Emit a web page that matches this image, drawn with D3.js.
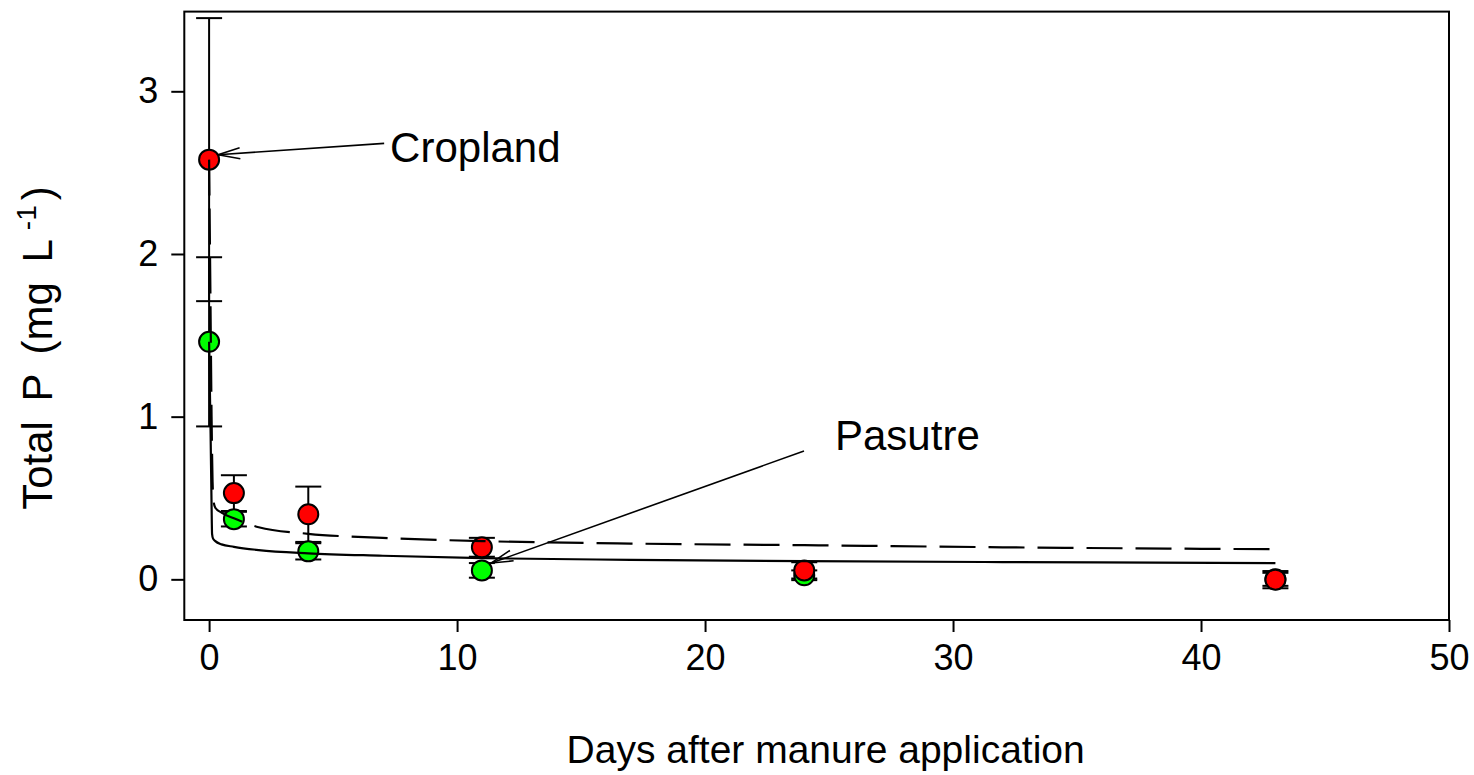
<!DOCTYPE html>
<html lang="en">
<head>
<meta charset="UTF-8">
<title>Total P after manure application</title>
<script src="https://d3js.org/d3.v7.min.js"></script>
<style>
    * { margin: 0; padding: 0; }
    body { background: #fff; }
    svg { display: block; font-family: "Liberation Sans", Arial, sans-serif; }
</style>
</head>
<body>
<script>
    // measured points (days, mean, error)
    var cropDays = [0, 1, 4, 11, 24, 43],
        cropMean = [2.58, 0.53, 0.40, 0.197, 0.055, -0.002],
        cropErr  = [0.87, 0.11, 0.17, 0.058, 0.05, 0.053];

    var pastDays = [0, 1, 4, 11, 24, 43],
        pastMean = [1.46, 0.37, 0.172, 0.055, 0.025, 0.0],
        pastErr  = [0.52, 0.045, 0.05, 0.045, 0.03, 0.04];

    // fitted curves
    var cropFitX = [0, 0.05, 0.1, 0.14, 0.18, 0.25, 0.5, 1, 2, 4, 7, 11, 17, 24, 32, 43],
        cropFitY = [2.58, 1.8, 1.0, 0.6, 0.48, 0.44, 0.41, 0.375, 0.32, 0.28, 0.255, 0.235, 0.22, 0.21, 0.197, 0.185];
    var pastFitX = [0, 0.06, 0.1, 0.12, 0.16, 0.25, 0.5, 1, 2, 4, 7, 11, 17, 24, 32, 43],
        pastFitY = [1.46, 0.9, 0.45, 0.28, 0.25, 0.235, 0.215, 0.2, 0.18, 0.16, 0.145, 0.13, 0.12, 0.112, 0.106, 0.10];

    var xTicks = [0, 10, 20, 30, 40, 50],
        yTicks = [0, 1, 2, 3];

    var labels = [
        {text: "Cropland", tx: 7.3, ty: 2.565, x1: 7.06, y1: 2.68, x2: 0.36, y2: 2.61},
        {text: "Pasutre", tx: 25.24, ty: 0.795, x1: 23.99, y1: 0.789, x2: 11.37, y2: 0.10}
    ];

    var W = 1474, H = 775;
    var x = d3.scaleLinear().domain([-1, 50]).range([184.3, 1449]);
    var y = d3.scaleLinear().domain([-0.25, 3.49]).range([620, 11.6]);

    var svg = d3.select("body").append("svg")
        .attr("width", W).attr("height", H);

    var defs = svg.append("defs");
    defs.append("marker")
        .attr("id", "arr")
        .attr("viewBox", "0 0 24 14")
        .attr("refX", 23).attr("refY", 7)
        .attr("markerWidth", 24).attr("markerHeight", 14)
        .attr("markerUnits", "userSpaceOnUse")
        .attr("orient", "auto")
        .append("path")
        .attr("d", "M1,1.5 L23,7 L1,12.5")
        .attr("fill", "none")
        .attr("stroke", "#000")
        .attr("stroke-width", 1.6);

    // frame
    svg.append("rect")
        .attr("x", x(-1)).attr("y", y(3.49))
        .attr("width", x(50) - x(-1)).attr("height", y(-0.25) - y(3.49))
        .attr("fill", "none").attr("stroke", "#000").attr("stroke-width", 2);

    // axes
    var xAxis = d3.axisBottom(x).tickValues(xTicks).tickFormat(d3.format("d"))
        .tickSize(12).tickPadding(12).tickSizeOuter(0);
    var gx = svg.append("g").attr("transform", "translate(0," + y(-0.25) + ")").call(xAxis);
    var yAxis = d3.axisLeft(y).tickValues(yTicks).tickFormat(d3.format("d"))
        .tickSize(13).tickPadding(13).tickSizeOuter(0);
    var gy = svg.append("g").attr("transform", "translate(" + x(-1) + ",0)").call(yAxis);
    [gx, gy].forEach(function(g) {
        g.select(".domain").remove();
        g.selectAll(".tick line").attr("stroke", "#000").attr("stroke-width", 2);
        g.selectAll(".tick text").attr("fill", "#000").style("font-size", "36px")
            .style("font-family", "'Liberation Sans', Arial, sans-serif");
    });

    // axis titles
    svg.append("text")
        .attr("x", (x(-1) + x(50)) / 2 + 9).attr("y", 763)
        .attr("text-anchor", "middle").style("font-size", "39px")
        .text("Days after manure application");

    var yl = svg.append("text")
        .attr("transform", "translate(52," + 348 + ") rotate(-90)")
        .attr("text-anchor", "middle").style("font-size", "42px")
        .style("word-spacing", "8px");
    yl.append("tspan").text("Total P (mg L");
    yl.append("tspan").attr("dx", 9).attr("dy", -16).style("font-size", "28px").text("-1");
    yl.append("tspan").attr("dx", 5).attr("dy", 16).text(")");

    function series(days, mean, err) {
        return days.map(function(d, i) { return {x: d, y: mean[i], e: err[i]}; });
    }
    var crop = series(cropDays, cropMean, cropErr),
        past = series(pastDays, pastMean, pastErr);

    function errorBars(data) {
        var g = svg.append("g").attr("stroke", "#000").attr("stroke-width", 2);
        data.forEach(function(d) {
            g.append("line").attr("x1", x(d.x)).attr("x2", x(d.x))
                .attr("y1", y(d.y - d.e)).attr("y2", y(d.y + d.e));
            [d.y - d.e, d.y + d.e].forEach(function(v) {
                g.append("line").attr("x1", x(d.x) - 13).attr("x2", x(d.x) + 13)
                    .attr("y1", y(v)).attr("y2", y(v));
            });
        });
    }
    errorBars(past);
    errorBars(crop);

    function points(data, color) {
        svg.append("g").selectAll("circle").data(data).enter().append("circle")
            .attr("cx", function(d) { return x(d.x); })
            .attr("cy", function(d) { return y(d.y); })
            .attr("r", 10)
            .attr("fill", color).attr("stroke", "#000").attr("stroke-width", 2);
    }
    points(past, "#00ff00");
    points(crop, "#ff0000");

    var line = d3.line().x(function(d) { return x(d[0]); }).y(function(d) { return y(d[1]); })
        .curve(d3.curveMonotoneX);
    svg.append("path")
        .datum(cropFitX.map(function(v, i) { return [v, cropFitY[i]]; }))
        .attr("d", line).attr("fill", "none").attr("stroke", "#000")
        .attr("stroke-width", 2.2).attr("stroke-dasharray", "36,13");
    svg.append("path")
        .datum(pastFitX.map(function(v, i) { return [v, pastFitY[i]]; }))
        .attr("d", line).attr("fill", "none").attr("stroke", "#000")
        .attr("stroke-width", 2.2);

    // annotations
    labels.forEach(function(a) {
        svg.append("line")
            .attr("x1", x(a.x1)).attr("y1", y(a.y1))
            .attr("x2", x(a.x2)).attr("y2", y(a.y2))
            .attr("stroke", "#000").attr("stroke-width", 1.6)
            .attr("marker-end", "url(#arr)");
        svg.append("text")
            .attr("x", x(a.tx)).attr("y", y(a.ty))
            .style("font-size", "42px").text(a.text);
    });
</script>
</body>
</html>
